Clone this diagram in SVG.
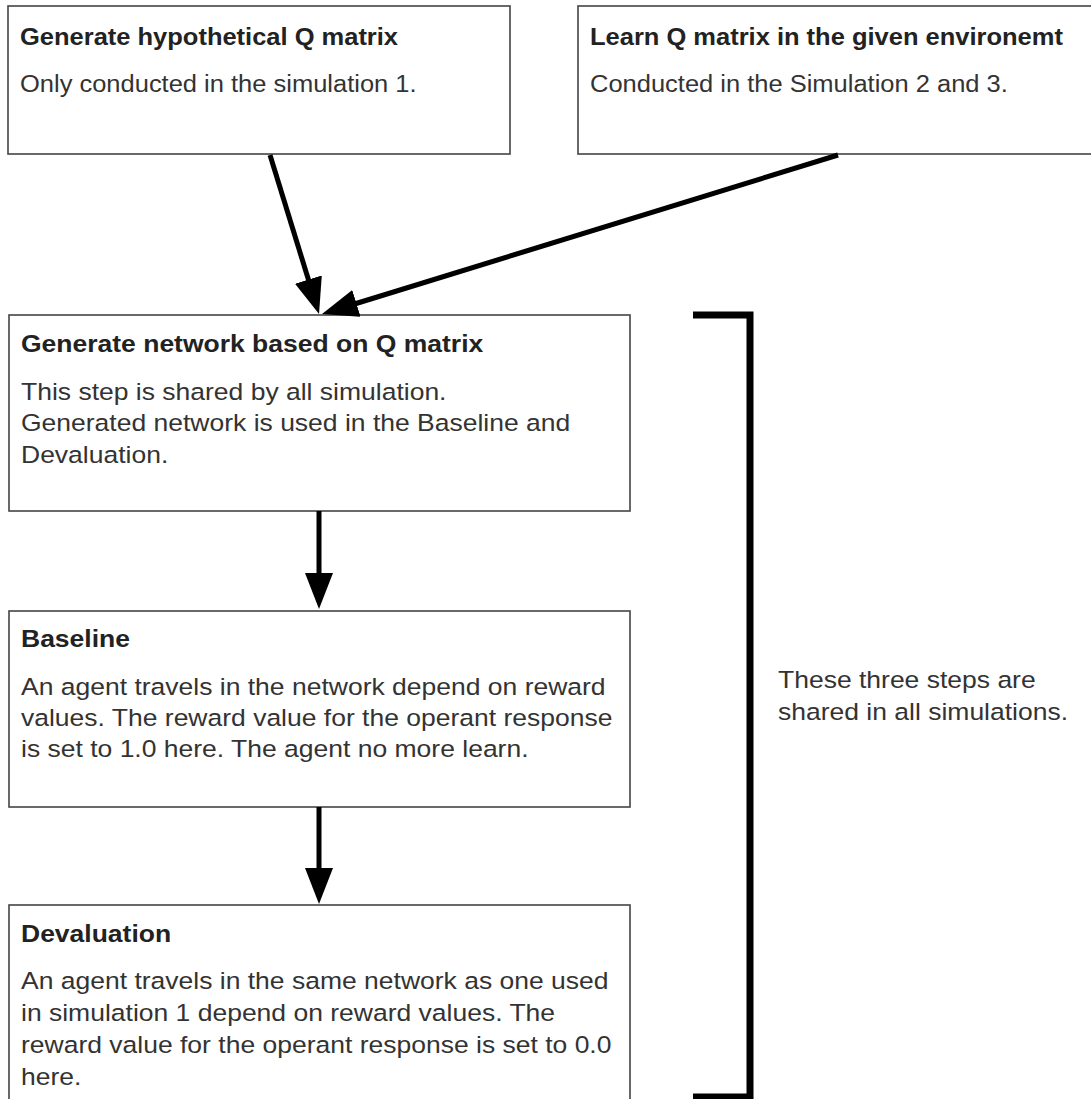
<svg xmlns="http://www.w3.org/2000/svg" width="1091" height="1099" viewBox="0 0 1091 1099">
<style>
  .box { fill: #ffffff; stroke: #444444; stroke-width: 1.6; }
  .title { font-family: "Liberation Sans", Arial, sans-serif; font-size: 23.5px; font-weight: bold; fill: #222222; }
  .body { font-family: "Liberation Sans", Arial, sans-serif; font-size: 23.5px; fill: #333333; }
  .conn { fill: none; stroke: #000000; stroke-width: 5; }
  .bracket { fill: none; stroke: #000000; stroke-width: 7; stroke-linejoin: miter; }
</style>
<defs>
  <marker id="head" viewBox="0 0 36 28" refX="2" refY="14" markerWidth="36" markerHeight="28" markerUnits="userSpaceOnUse" orient="auto">
    <path d="M0,0 L36,14 L0,28 z" fill="#000000"/>
  </marker>
</defs>
<rect x="0" y="0" width="1091" height="1099" fill="#ffffff"/>

<g id="node-generate-q">
  <rect class="box" x="8" y="6" width="502" height="148"/>
  <text class="title" transform="translate(20,45) scale(1.085,1)">Generate hypothetical Q matrix</text>
  <text class="body" transform="translate(20,92) scale(1.085,1)">Only conducted in the simulation 1.</text>
</g>

<g id="node-learn-q">
  <rect class="box" x="578" y="6" width="530" height="148"/>
  <text class="title" transform="translate(590,45) scale(1.085,1)">Learn Q matrix in the given environemt</text>
  <text class="body" transform="translate(590,92) scale(1.085,1)">Conducted in the Simulation 2 and 3.</text>
</g>

<g id="node-network">
  <rect class="box" x="9" y="315" width="621" height="196"/>
  <text class="title" transform="translate(21,352) scale(1.128,1)">Generate network based on Q matrix</text>
  <text class="body" transform="translate(21,0) scale(1.128,1)">
    <tspan x="0" y="400">This step is shared by all simulation.</tspan>
    <tspan x="0" y="431">Generated network is used in the Baseline and</tspan>
    <tspan x="0" y="463">Devaluation.</tspan>
  </text>
</g>

<g id="node-baseline">
  <rect class="box" x="9" y="611" width="621" height="196"/>
  <text class="title" transform="translate(21,647) scale(1.128,1)">Baseline</text>
  <text class="body" transform="translate(21,0) scale(1.128,1)">
    <tspan x="0" y="695">An agent travels in the network depend on reward</tspan>
    <tspan x="0" y="726">values. The reward value for the operant response</tspan>
    <tspan x="0" y="757">is set to 1.0 here. The agent no more learn.</tspan>
  </text>
</g>

<g id="node-devaluation">
  <rect class="box" x="9" y="905" width="621" height="210"/>
  <text class="title" transform="translate(21,942) scale(1.128,1)">Devaluation</text>
  <text class="body" transform="translate(21,0) scale(1.128,1)">
    <tspan x="0" y="989">An agent travels in the same network as one used</tspan>
    <tspan x="0" y="1021">in simulation 1 depend on reward values. The</tspan>
    <tspan x="0" y="1053">reward value for the operant response is set to 0.0</tspan>
    <tspan x="0" y="1085">here.</tspan>
  </text>
</g>

<g id="connectors">
  <line class="conn" x1="270" y1="155" x2="309" y2="281.5" marker-end="url(#head)"/>
  <line class="conn" x1="838" y1="155" x2="354.5" y2="304" marker-end="url(#head)"/>
  <line class="conn" x1="319" y1="511" x2="319" y2="575" marker-end="url(#head)"/>
  <line class="conn" x1="319" y1="807" x2="319" y2="870" marker-end="url(#head)"/>
</g>

<g id="bracket">
  <path class="bracket" d="M693,315 H750 V1097 H693"/>
  <text class="body" transform="translate(778,0) scale(1.128,1)">
    <tspan x="0" y="688">These three steps are</tspan>
    <tspan x="0" y="720">shared in all simulations.</tspan>
  </text>
</g>
</svg>
